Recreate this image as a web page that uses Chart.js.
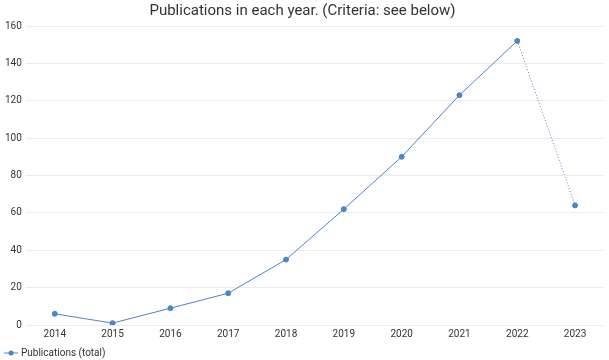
<!DOCTYPE html>
<html lang="en">
<head>
  <meta charset="UTF-8">
  <title>Publications</title>
  <script src="https://cdn.jsdelivr.net/npm/chart.js"></script>
  <style>
    html, body { margin: 0; padding: 0; background: #fff; }
    .wrap { width: 609px; height: 360px; }
  </style>
</head>
<body>
<div class="wrap"><canvas id="pubChart"></canvas></div>
<script>
  const years = ["2014", "2015", "2016", "2017", "2018", "2019", "2020", "2021", "2022", "2023"];
  const publications = [6, 1, 9, 17, 35, 62, 90, 123, 152, 64];
  const yTicks = [0, 20, 40, 60, 80, 100, 120, 140, 160];

  const lineColor = '#4a86c8';

  // small line+dot marker for the legend
  function legendMarker() {
    const c = document.createElement('canvas');
    c.width = 14; c.height = 8;
    const g = c.getContext('2d');
    g.strokeStyle = lineColor;
    g.lineWidth = 1;
    g.beginPath(); g.moveTo(0, 4); g.lineTo(14, 4); g.stroke();
    g.fillStyle = lineColor;
    g.beginPath(); g.arc(7, 4, 2.5, 0, Math.PI * 2); g.fill();
    return c;
  }

  Chart.defaults.font.family = 'Roboto, "Noto Sans", sans-serif';
  Chart.defaults.color = '#333';

  const lastIdx = publications.length - 2;

  new Chart(document.getElementById('pubChart').getContext('2d'), {
    type: 'line',
    data: {
      labels: years,
      datasets: [{
        label: 'Publications (total)',
        data: publications,
        borderColor: lineColor,
        backgroundColor: lineColor,
        borderWidth: 1,
        pointRadius: 2.5,
        pointHoverRadius: 4,
        tension: 0,
        segment: {
          borderDash: ctx => ctx.p0DataIndex === lastIdx ? [1, 2] : undefined
        }
      }]
    },
    options: {
      responsive: true,
      maintainAspectRatio: false,
      animation: false,
      layout: { padding: { left: 1, right: 5, top: 0, bottom: -8 } },
      scales: {
        x: {
          offset: true,
          grid: { display: false, drawTicks: false },
          border: { display: false },
          ticks: { font: { size: 10 }, color: '#333', padding: 3, maxRotation: 0 }
        },
        y: {
          min: 0,
          max: 160,
          afterBuildTicks: axis => { axis.ticks = yTicks.map(v => ({ value: v })); },
          grid: { color: '#ececec', drawTicks: false },
          border: { display: false },
          ticks: { font: { size: 10 }, color: '#333', padding: 4 }
        }
      },
      plugins: {
        title: {
          display: true,
          text: 'Publications in each year. (Criteria: see below)',
          font: { size: 15, weight: 'normal' },
          color: '#333',
          padding: { top: 2, bottom: 6 }
        },
        legend: {
          position: 'bottom',
          align: 'start',
          labels: {
            usePointStyle: true,
            font: { size: 10 },
            color: '#333',
            padding: 5,
            generateLabels: chart => chart.data.datasets.map((ds, i) => ({
              text: ds.label,
              pointStyle: legendMarker(),
              fillStyle: lineColor,
              strokeStyle: lineColor,
              lineWidth: 0,
              datasetIndex: i,
              fontColor: '#333'
            }))
          }
        },
        tooltip: { enabled: true }
      }
    }
  });
</script>
</body>
</html>
